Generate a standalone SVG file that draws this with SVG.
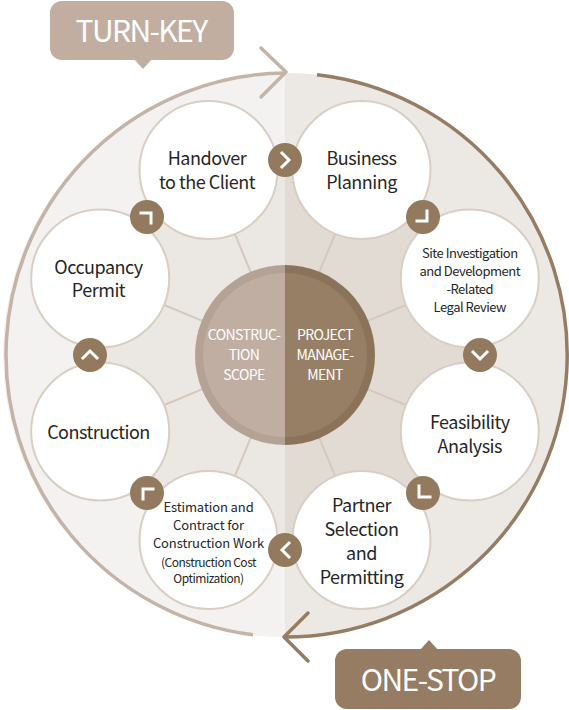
<svg xmlns="http://www.w3.org/2000/svg" width="569" height="710" viewBox="0 0 569 710">
<defs>
<style>
.node{fill:#ffffff;stroke:#d9cec4;stroke-width:2}
.t{font-family:"Noto Sans CJK KR","Noto Sans",sans-serif;fill:#262626;text-anchor:middle;letter-spacing:-0.5px}
.big{font-size:18px}
.sm{font-size:13px}
.md{font-size:13px;letter-spacing:-0.1px}
.xs{font-size:12px}
.ctr{font-family:"Noto Sans CJK KR","Noto Sans",sans-serif;fill:#ffffff;text-anchor:middle;font-size:14px;letter-spacing:-0.6px}
.btn{fill:#937a5f}
.ic{fill:none;stroke:#ffffff;stroke-width:3;stroke-linecap:square;stroke-linejoin:miter}
.spoke{stroke:#d5c8bc;stroke-width:2}
.lbl{font-family:"Noto Sans CJK KR","Noto Sans",sans-serif;fill:#ffffff;text-anchor:middle;font-size:30px;letter-spacing:-1.6px}
</style>
</defs>
<rect width="569" height="710" fill="#ffffff"/>
<g id="background">
<path d="M285,73 A282,282 0 0 0 285,637 Z" fill="#f4f2f0"/>
<path d="M285,73 A282,282 0 0 1 285,637 Z" fill="#ece8e4"/>
<path d="M285,155 A200,200 0 0 0 285,555 Z" fill="#ebe7e3"/>
<path d="M285,155 A200,200 0 0 1 285,555 Z" fill="#e2dbd4"/>
</g>
<g id="connectors">
<path d="M253,634.8 A282,282 0 0 1 285,73" fill="none" stroke="#c4b3a6" stroke-width="3.5"/>
<polyline points="261,48 286,72 261,97" fill="none" stroke="#c4b3a6" stroke-width="3.5" stroke-linecap="round" stroke-linejoin="round"/>
<path d="M317,74.8 A282,282 0 0 1 285,637" fill="none" stroke="#957c63" stroke-width="3.5"/>
<polyline points="308,613 284,637 308,661" fill="none" stroke="#957c63" stroke-width="3.5" stroke-linecap="round" stroke-linejoin="round"/>
<line class="spoke" x1="368.2" y1="389.4" x2="408.2" y2="406"/>
<line class="spoke" x1="319.4" y1="438.1" x2="336" y2="478.1"/>
<line class="spoke" x1="250.6" y1="438.1" x2="234" y2="478.1"/>
<line class="spoke" x1="201.8" y1="389.4" x2="161.8" y2="406"/>
<line class="spoke" x1="201.8" y1="320.6" x2="161.8" y2="304"/>
<line class="spoke" x1="250.6" y1="271.9" x2="234" y2="231.9"/>
<line class="spoke" x1="319.4" y1="271.9" x2="336" y2="231.9"/>
<line class="spoke" x1="368.2" y1="320.6" x2="408.2" y2="304"/>
</g>
<g id="center">
<path d="M285,265 A90,90 0 0 0 285,445 Z" fill="#b4a295"/>
<path d="M285,265 A90,90 0 0 1 285,445 Z" fill="#8b7359"/>
<path d="M285,273 A82,82 0 0 0 285,437 Z" fill="#bfaea1"/>
<path d="M285,273 A82,82 0 0 1 285,437 Z" fill="#977f66"/>
<text class="ctr" x="244" y="340">CONSTRUC-</text>
<text class="ctr" x="244" y="360">TION</text>
<text class="ctr" x="244" y="380">SCOPE</text>
<text class="ctr" x="325" y="340">PROJECT</text>
<text class="ctr" x="325" y="360">MANAGE-</text>
<text class="ctr" x="325" y="380">MENT</text>
</g>
<g id="node-business-planning">
<circle class="node" cx="361.5" cy="170" r="69"/>
<text class="t big" x="361.5" y="165">Business</text>
<text class="t big" x="361.5" y="189">Planning</text>
</g>
<g id="node-site-investigation">
<circle class="node" cx="469.8" cy="278.5" r="69"/>
<text class="t sm" x="469.8" y="258">Site Investigation</text>
<text class="t sm" x="469.8" y="276">and Development</text>
<text class="t sm" x="469.8" y="294">-Related</text>
<text class="t sm" x="469.8" y="312">Legal Review</text>
</g>
<g id="node-feasibility">
<circle class="node" cx="469.8" cy="431.5" r="69"/>
<text class="t big" x="469.8" y="428.5">Feasibility</text>
<text class="t big" x="469.8" y="452.5">Analysis</text>
</g>
<g id="node-partner">
<circle class="node" cx="361.5" cy="540" r="69"/>
<text class="t big" x="361.5" y="511.5">Partner</text>
<text class="t big" x="361.5" y="535.5">Selection</text>
<text class="t big" x="361.5" y="559.5">and</text>
<text class="t big" x="361.5" y="583.5">Permitting</text>
</g>
<g id="node-estimation">
<circle class="node" cx="208.5" cy="540" r="69"/>
<text class="t md" x="208.5" y="512">Estimation and</text>
<text class="t md" x="208.5" y="530">Contract for</text>
<text class="t md" x="208.5" y="548">Construction Work</text>
<text class="t xs" x="208.5" y="567">(Construction Cost</text>
<text class="t xs" x="208.5" y="583">Optimization)</text>
</g>
<g id="node-construction">
<circle class="node" cx="100.2" cy="431.5" r="69"/>
<text class="t big" x="98.5" y="438.5">Construction</text>
</g>
<g id="node-occupancy">
<circle class="node" cx="100.2" cy="278.5" r="69"/>
<text class="t big" x="98.5" y="273.5">Occupancy</text>
<text class="t big" x="98.5" y="297">Permit</text>
</g>
<g id="node-handover">
<circle class="node" cx="208.5" cy="170" r="69"/>
<text class="t big" x="207" y="165">Handover</text>
<text class="t big" x="207" y="189">to the Client</text>
</g>
<g id="buttons">
<circle class="btn" cx="285" cy="160" r="17"/>
<polyline class="ic" points="282,153 289,160 282,167"/>
<circle class="btn" cx="423" cy="217" r="17"/>
<polyline class="ic" points="427,211 427,221 417,221"/>
<circle class="btn" cx="480" cy="355" r="17"/>
<polyline class="ic" points="473,352 480,359 487,352"/>
<circle class="btn" cx="423" cy="493" r="17"/>
<polyline class="ic" points="419,486 419,497 430,497"/>
<circle class="btn" cx="285" cy="550" r="17"/>
<polyline class="ic" points="289,543 282,550 289,557"/>
<circle class="btn" cx="147" cy="493" r="17"/>
<polyline class="ic" points="143,499 143,489 153,489"/>
<circle class="btn" cx="90" cy="355" r="17"/>
<polyline class="ic" points="83,358 90,351 97,358"/>
<circle class="btn" cx="147" cy="217" r="17"/>
<polyline class="ic" points="141,213 151,213 151,223"/>
</g>
<g id="label-turnkey">
<rect x="50" y="1" width="184" height="59" rx="12" fill="#c1aea1"/>
<polygon points="134,59 143,69 152,59" fill="#c1aea1"/>
<text class="lbl" x="141" y="42">TURN-KEY</text>
</g>
<g id="label-onestop">
<rect x="335" y="649" width="186" height="60" rx="12" fill="#957c62"/>
<polygon points="420,650 429,640 438,650" fill="#957c62"/>
<text class="lbl" x="428" y="691">ONE-STOP</text>
</g>
</svg>
